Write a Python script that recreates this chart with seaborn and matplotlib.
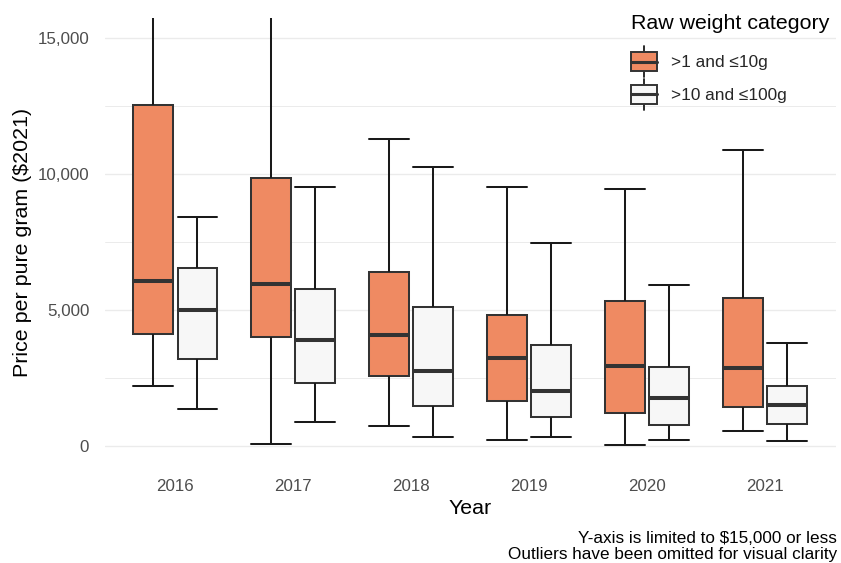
import numpy as np
import pandas as pd
import matplotlib
matplotlib.use("Agg")
import matplotlib.pyplot as plt
import seaborn as sns
from matplotlib.legend_handler import HandlerBase
from matplotlib.patches import Rectangle, Patch
from matplotlib.lines import Line2D
from matplotlib.ticker import FuncFormatter, MultipleLocator

# ---- data: five-number summaries ----
years = ["2016", "2017", "2018", "2019", "2020", "2021"]
categories = [">1 and \u226410g", ">10 and \u2264100g"]

small_low = [2210, 75, 710, 195, 15, 540]
small_q1 = [4120, 4000, 2550, 1630, 1190, 1420]
small_med = [6050, 5960, 4060, 3210, 2940, 2860]
small_q3 = [12550, 9870, 6410, 4800, 5310, 5450]
small_high = [17500, 17500, 11290, 9535, 9440, 10905]

large_low = [1350, 860, 320, 305, 220, 185]
large_q1 = [3190, 2305, 1460, 1040, 770, 800]
large_med = [4990, 3900, 2745, 2020, 1765, 1505]
large_q3 = [6530, 5785, 5110, 3700, 2905, 2180]
large_high = [8410, 9510, 10255, 7465, 5920, 3775]

colors = ["#EF8A62", "#F7F7F7"]

rows = []
for cat, arrs in zip(categories, [
        (small_low, small_q1, small_med, small_q3, small_high),
        (large_low, large_q1, large_med, large_q3, large_high)]):
    for i, yr in enumerate(years):
        for a in arrs:
            rows.append({"Year": yr, "Category": cat, "Price": a[i]})
df = pd.DataFrame(rows)

# ---- style ----
sns.set_theme(style="white")
plt.rcParams["font.family"] = ["Liberation Sans", "DejaVu Sans"]

W, H = 841, 563
fig = plt.figure(figsize=(W / 100, H / 100), dpi=100)
ax = fig.add_axes([104.5 / W, (H - 466) / H, (836 - 104.5) / W, (466 - 18) / H])

edge = "#333333"
wcol = "#1a1a1a"
sns.boxplot(
    data=df, x="Year", y="Price", hue="Category", order=years,
    hue_order=categories, palette=colors, saturation=1, width=0.75, gap=0.1,
    whis=(0, 100), showfliers=False, linecolor=edge, linewidth=1.45,
    medianprops=dict(color=edge, linewidth=2.9),
    whiskerprops=dict(color=wcol, linewidth=1.45),
    capprops=dict(color=wcol, linewidth=1.45),
    capwidths=0.3375, legend=False, ax=ax, zorder=3,
)

ax.set_xlim(-0.6, 5.6)
ax.set_ylim(-750, 15750)
ax.yaxis.set_major_locator(MultipleLocator(5000))
ax.yaxis.set_minor_locator(MultipleLocator(2500))
ax.yaxis.set_major_formatter(FuncFormatter(lambda v, p: f"{int(v):,}"))
ax.grid(False)
ax.grid(axis="y", which="major", color="#EBEBEB", linewidth=1.0, zorder=0)
ax.grid(axis="y", which="minor", color="#EBEBEB", linewidth=0.7, zorder=0)
ax.set_axisbelow(True)
for s in ax.spines.values():
    s.set_visible(False)
ax.tick_params(axis="both", which="both", length=0, labelsize=12.2,
               labelcolor="#4D4D4D")
ax.tick_params(axis="y", pad=11)
ax.tick_params(axis="x", pad=9.5)
ax.set_xlabel("Year", fontsize=15.4, color="black", labelpad=3.5)
ax.set_ylabel("Price per pure gram ($2021)", fontsize=15.4, color="black",
              labelpad=4)


class BoxHandler(HandlerBase):
    def create_artists(self, legend, orig_handle, xdescent, ydescent,
                       width, height, fontsize, trans):
        fc = orig_handle.get_facecolor()
        x0, y0 = -xdescent, -ydescent
        ext = height * 0.33
        cx = x0 + width / 2
        w1 = Line2D([cx, cx], [y0 + height, y0 + height + ext], color=wcol,
                    lw=1.3, transform=trans)
        w2 = Line2D([cx, cx], [y0 - ext, y0], color=wcol, lw=1.3,
                    transform=trans)
        rect = Rectangle((x0, y0), width, height, facecolor=fc,
                         edgecolor=edge, lw=1.4, transform=trans)
        med = Line2D([x0, x0 + width], [y0 + height / 2] * 2, color=edge,
                     lw=2.2, transform=trans)
        return [w1, w2, rect, med]


handles = [Patch(facecolor=c) for c in colors]
leg = fig.legend(
    handles, categories, handler_map={Patch: BoxHandler()},
    loc="upper left", bbox_to_anchor=(631 / W, 1 - 14 / H),
    frameon=False, fontsize=12.4, title="Raw weight category",
    title_fontsize=15.4, alignment="left", handlelength=1.5,
    handleheight=1.25, labelspacing=0.85, handletextpad=0.85,
    borderpad=0, borderaxespad=0,
)
leg.get_title().set_color("black")
leg._legend_box.sep = 14

fig.text(837 / W, 1 - 562 / H,
         "Y-axis is limited to $15,000 or less\nOutliers have been omitted for visual clarity",
         ha="right", va="bottom", multialignment="right", fontsize=12.3,
         color="black", linespacing=1.05)

fig.savefig("out.png", dpi=100)
